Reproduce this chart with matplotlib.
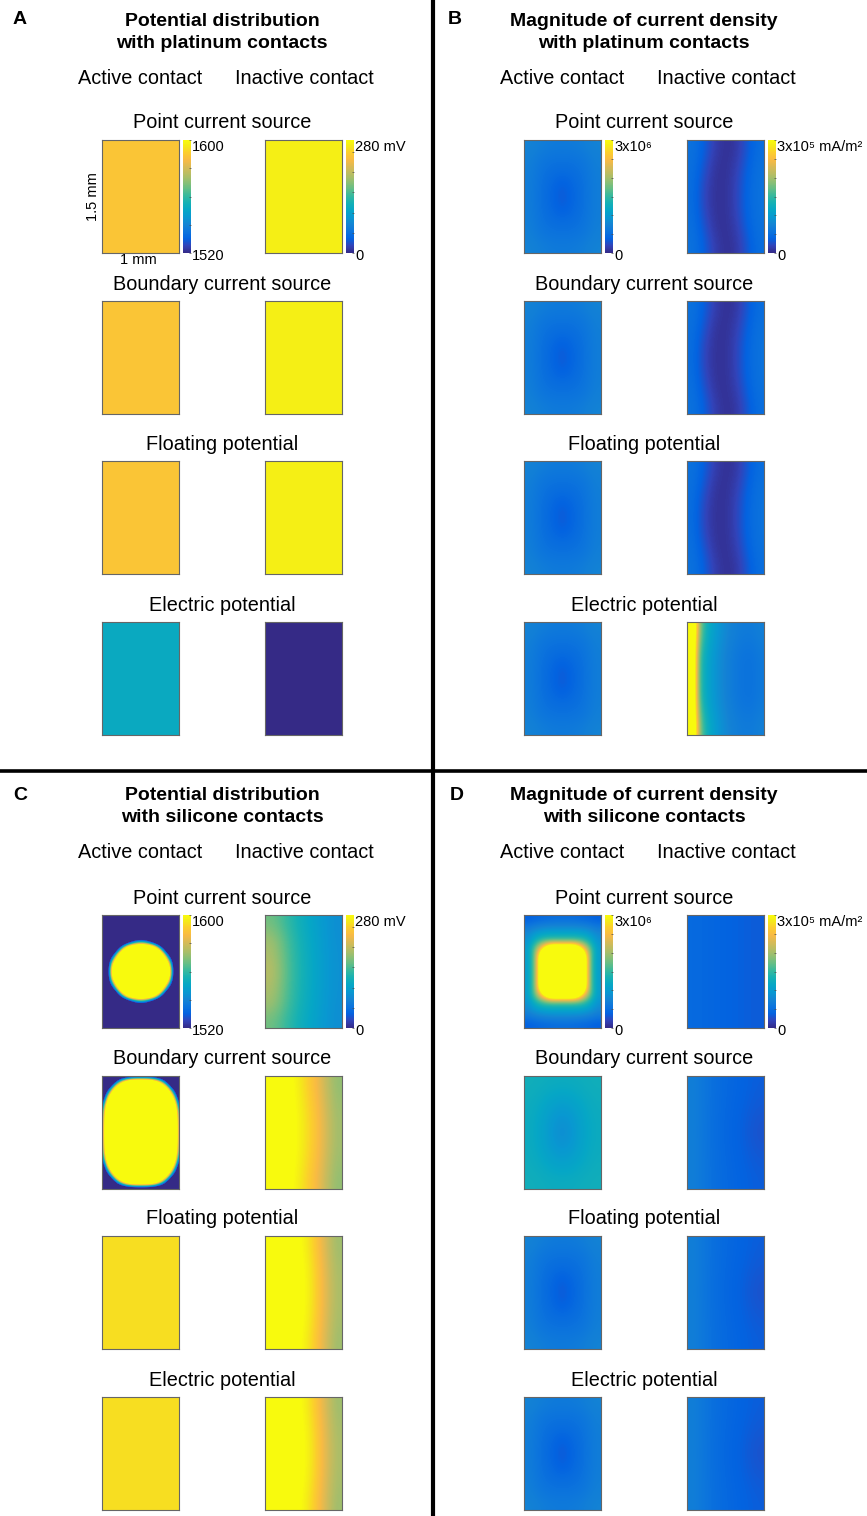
import numpy as np
import matplotlib
matplotlib.use("Agg")
import matplotlib.pyplot as plt
from matplotlib.colors import LinearSegmentedColormap, Normalize
from matplotlib.cm import ScalarMappable
from matplotlib.lines import Line2D

plt.rcParams['font.family'] = ['Liberation Sans', 'DejaVu Sans']

# MATLAB parula, sampled
parula_pos = [i / 63 for i in (0, 4, 8, 12, 16, 20, 24, 28, 32, 36, 40, 44, 48, 52, 56, 60, 63)]
parula_rgb = [
    (0.2081, 0.1663, 0.5292), (0.1959, 0.2645, 0.7279), (0.0117, 0.3875, 0.8820),
    (0.0498, 0.4586, 0.8641), (0.0793, 0.5200, 0.8312), (0.0343, 0.5966, 0.8199),
    (0.0228, 0.6535, 0.7768), (0.0843, 0.6928, 0.7062), (0.2178, 0.7250, 0.6193),
    (0.3953, 0.7459, 0.5244), (0.5709, 0.7485, 0.4494), (0.7184, 0.7411, 0.3905),
    (0.8507, 0.7299, 0.3360), (0.9739, 0.7314, 0.2666), (0.9880, 0.8066, 0.1794),
    (0.9598, 0.9218, 0.0948), (0.9763, 0.9831, 0.0538)]
parula = LinearSegmentedColormap.from_list("parula", list(zip(parula_pos, parula_rgb)))

# ---- data ----
panel_letters = ["A", "B", "C", "D"]
panel_titles = [("Potential distribution", "with platinum contacts"),
                ("Magnitude of current density", "with platinum contacts"),
                ("Potential distribution", "with silicone contacts"),
                ("Magnitude of current density", "with silicone contacts")]
col_titles = ["Active contact", "Inactive contact"]
row_titles = ["Point current source", "Boundary current source",
              "Floating potential", "Electric potential"]

# colour limits: potential in mV, current density in 1e5 mA/m^2
pot_active_lim, pot_inactive_lim = (1520, 1600), (0, 280)
cur_active_lim, cur_inactive_lim = (0, 30), (0, 3)
pot_labels = [("1600", "1520"), ("280 mV", "0")]
cur_labels = [("3x10\u2076", "0"), ("3x10\u2075 mA/m\u00b2", "0")]
pot_minor = [list(range(1520, 1601, 20)), list(range(0, 281, 50))]
cur_minor = [list(range(0, 31, 5)), [0, 0.5, 1, 1.5, 2, 2.5, 3]]

# A: platinum potential (uniform fields)
A_active = [[[1589]], [[1589]], [[1589]], [[1552]]]
A_inactive = [[[270]], [[270]], [[270]], [[0]]]

# B: platinum current density
B_active = [[7.5, 6.8, 6.4, 6.3, 6.4, 6.8, 7.5],
            [7.0, 6.0, 5.6, 5.5, 5.6, 6.0, 7.0],
            [6.8, 5.6, 5.0, 4.8, 5.0, 5.6, 6.8],
            [6.7, 5.4, 4.5, 3.4, 4.5, 5.4, 6.7],
            [6.7, 5.3, 4.3, 3.0, 4.3, 5.3, 6.7],
            [6.7, 5.4, 4.5, 3.4, 4.5, 5.4, 6.7],
            [6.8, 5.6, 5.0, 4.8, 5.0, 5.6, 6.8],
            [7.0, 6.0, 5.6, 5.5, 5.6, 6.0, 7.0],
            [7.5, 6.8, 6.4, 6.3, 6.4, 6.8, 7.5]]
B_inactive_src = [[0.55, 0.38, 0.16, 0.05, 0.10, 0.32, 0.50],
                  [0.53, 0.32, 0.10, 0.05, 0.15, 0.37, 0.53],
                  [0.51, 0.25, 0.07, 0.06, 0.19, 0.41, 0.55],
                  [0.50, 0.22, 0.07, 0.06, 0.20, 0.42, 0.55],
                  [0.51, 0.25, 0.07, 0.06, 0.19, 0.41, 0.55],
                  [0.53, 0.32, 0.10, 0.05, 0.15, 0.37, 0.53],
                  [0.55, 0.38, 0.16, 0.05, 0.10, 0.32, 0.50]]
B_inactive_elec = [[4.5, 2.00, 1.30, 1.05, 0.88, 0.75, 0.68, 0.65, 0.65, 0.70],
                   [4.5, 1.60, 1.15, 0.95, 0.80, 0.68, 0.60, 0.55, 0.55, 0.62],
                   [4.5, 1.60, 1.15, 0.95, 0.80, 0.68, 0.60, 0.55, 0.55, 0.62],
                   [4.5, 1.60, 1.15, 0.95, 0.80, 0.68, 0.60, 0.55, 0.55, 0.62],
                   [4.5, 2.00, 1.30, 1.05, 0.88, 0.75, 0.68, 0.65, 0.65, 0.70]]

# C: silicone potential
C_point_half = [[1450] * 10,
                [1450] * 10,
                [1450] * 10,
                [1450, 1450, 1450, 1481, 1539, 1539, 1481, 1450, 1450, 1450],
                [1450, 1450, 1568, 1690, 1690, 1690, 1690, 1568, 1450, 1450],
                [1450, 1539, 1690, 1690, 1690, 1690, 1690, 1690, 1539, 1450],
                [1450, 1632, 1690, 1690, 1690, 1690, 1690, 1690, 1632, 1450],
                [1450, 1666, 1690, 1690, 1690, 1690, 1690, 1690, 1666, 1450]]
# sampled on a grid whose outer nodes sit on the contact border
C_bound_half = [[1450, 1450, 1450, 1450, 1460, 1462, 1460, 1450, 1450, 1450, 1450],
                [1450, 1450, 1555, 1654, 1690, 1690, 1690, 1654, 1555, 1450, 1450],
                [1450, 1545, 1690, 1690, 1690, 1690, 1690, 1690, 1690, 1545, 1450],
                [1460, 1645, 1690, 1690, 1690, 1690, 1690, 1690, 1690, 1645, 1460],
                [1505, 1690, 1690, 1690, 1690, 1690, 1690, 1690, 1690, 1690, 1505],
                [1532, 1690, 1690, 1690, 1690, 1690, 1690, 1690, 1690, 1690, 1532],
                [1542, 1690, 1690, 1690, 1690, 1690, 1690, 1690, 1690, 1690, 1542],
                [1545, 1690, 1690, 1690, 1690, 1690, 1690, 1690, 1690, 1690, 1545]]
C_uniform = [[1594]]
C_inactive_point = [[165, 138, 114, 96, 80],
                    [185, 146, 118, 98, 81],
                    [192, 149, 120, 99, 82],
                    [198, 151, 121, 100, 82],
                    [192, 149, 120, 99, 82],
                    [185, 146, 118, 98, 81],
                    [165, 138, 114, 96, 80]]
C_inactive_bound = [[310, 290, 258, 226, 176],
                    [310, 292, 262, 230, 180],
                    [310, 294, 265, 234, 183],
                    [310, 294, 266, 235, 184],
                    [310, 294, 265, 234, 183],
                    [310, 292, 262, 230, 180],
                    [310, 290, 258, 226, 176]]
C_inactive_float = [[315, 302, 276, 236, 182],
                    [315, 304, 280, 240, 185],
                    [315, 305, 283, 243, 187],
                    [315, 305, 284, 244, 188],
                    [315, 305, 283, 243, 187],
                    [315, 304, 280, 240, 185],
                    [315, 302, 276, 236, 182]]

# D: silicone current density
D_point_half = [[3.6, 4.2, 4.5, 4.8, 5.0, 5.0, 4.8, 4.5, 4.2, 3.6],
                [6.0, 6.8, 7.4, 7.6, 7.6, 7.6, 7.6, 7.4, 6.8, 6.0],
                [8.0, 10.0, 11.0, 11.5, 11.5, 11.5, 11.5, 11.0, 10.0, 8.0],
                [9.0, 13.5, 16.5, 17, 17, 17, 17, 16.5, 13.5, 9.0],
                [10.0, 18, 30, 45, 45, 45, 45, 30, 18, 10.0],
                [10.0, 18, 45, 60, 60, 60, 60, 45, 18, 10.0],
                [10.0, 18, 45, 60, 60, 60, 60, 45, 18, 10.0],
                [10.0, 18, 45, 60, 60, 60, 60, 45, 18, 10.0]]
D_active_bound = [[12.8, 12.4, 12.2, 12.4, 12.8],
                  [12.5, 11.4, 10.6, 11.4, 12.5],
                  [12.3, 10.5, 8.8, 10.5, 12.3],
                  [12.2, 10.2, 7.8, 10.2, 12.2],
                  [12.3, 10.5, 8.8, 10.5, 12.3],
                  [12.5, 11.4, 10.6, 11.4, 12.5],
                  [12.8, 12.4, 12.2, 12.4, 12.8]]
D_inactive_point = [[0.46, 0.43, 0.40, 0.37, 0.34]] * 5
D_inactive_rest = [[0.69, 0.53, 0.45, 0.40, 0.35],
                   [0.69, 0.53, 0.44, 0.38, 0.32],
                   [0.69, 0.52, 0.43, 0.37, 0.28],
                   [0.69, 0.53, 0.44, 0.38, 0.32],
                   [0.69, 0.53, 0.45, 0.40, 0.35]]

plain = (0, 1, 0, 1.5)
node_edge = (-0.05, 1.05, -0.05, 1.55)


def mirror(half, skip_middle=True):
    half = np.array(half, dtype=float)
    return np.vstack([half, half[-2::-1] if skip_middle else half[::-1]])


fields = [
    (list(zip(A_active, A_inactive)), pot_active_lim, pot_inactive_lim, pot_labels, pot_minor),
    ([(B_active, B_inactive_src)] * 3 + [(B_active, B_inactive_elec)],
     cur_active_lim, cur_inactive_lim, cur_labels, cur_minor),
    ([(mirror(C_point_half), C_inactive_point),
      ((mirror(C_bound_half, False), node_edge), C_inactive_bound),
      (C_uniform, C_inactive_float), (C_uniform, C_inactive_float)],
     pot_active_lim, pot_inactive_lim, pot_labels, pot_minor),
    ([(mirror(D_point_half), D_inactive_point), (D_active_bound, D_inactive_rest),
      (B_active, D_inactive_rest), (B_active, D_inactive_rest)],
     cur_active_lim, cur_inactive_lim, cur_labels, cur_minor),
]

# ---- layout (pixels) ----
W, H = 867, 1516
fig = plt.figure(figsize=(W / 100, H / 100), dpi=100)


def px_axes(x, y, w, h):
    return fig.add_axes([x / W, 1 - (y + h) / H, w / W, h / H])


def px_text(x, y, s, **kw):
    fig.text(x / W, 1 - y / H, s, **kw)


offsets = [(0, 0), (422, 0), (0, 775), (422, 775)]
letter_x = [20, 455, 20, 457]
map_x = [102, 265]
map_w, map_h = 77, 113
row_y = [140, 301, 461, 622]
row_title_y = [123, 284, 444, 605]
fs_title, fs_head, fs_tick = 14, 14.3, 10.5

for p in range(4):
    ox, oy = offsets[p]
    rows, lim_a, lim_i, labels, minor = fields[p]
    px_text(letter_x[p], 20 + oy, panel_letters[p], fontsize=fs_title, fontweight="bold",
            ha="center", va="center")
    px_text(222 + ox, 21 + oy, panel_titles[p][0], fontsize=fs_title, fontweight="bold",
            ha="center", va="center")
    px_text(222 + ox, 43 + oy, panel_titles[p][1], fontsize=fs_title, fontweight="bold",
            ha="center", va="center")
    px_text(140 + ox, 78 + oy, col_titles[0], fontsize=fs_head, ha="center", va="center")
    px_text(304 + ox, 78 + oy, col_titles[1], fontsize=fs_head, ha="center", va="center")

    for r in range(4):
        px_text(222 + ox, row_title_y[r] + oy, row_titles[r], fontsize=fs_head,
                ha="center", va="center")
        for c, lim in enumerate((lim_a, lim_i)):
            grid, ext = rows[r][c] if isinstance(rows[r][c], tuple) else (rows[r][c], plain)
            ax = px_axes(map_x[c] + ox, row_y[r] + oy, map_w, map_h)
            ax.imshow(np.array(grid, dtype=float), cmap=parula, vmin=lim[0], vmax=lim[1],
                      extent=ext, aspect="auto", interpolation="bicubic")
            ax.set_xlim(0, 1)
            ax.set_ylim(0, 1.5)
            ax.set_xticks([])
            ax.set_yticks([])
            for s in ax.spines.values():
                s.set_color("0.4")
                s.set_linewidth(0.8)

            if r == 0:
                cx = map_x[c] + ox + map_w + 4
                cax = px_axes(cx, row_y[r] + oy, 8, map_h)
                cb = fig.colorbar(ScalarMappable(Normalize(*lim), parula), cax=cax)
                cb.outline.set_visible(False)
                cb.set_ticks(minor[c], labels=[""] * len(minor[c]))
                cax.tick_params(direction="in", length=1.5, width=0.5, color="0.3")
                px_text(cx + 9, row_y[r] + oy, labels[c][0], fontsize=fs_tick,
                        ha="left", va="top")
                px_text(cx + 9, row_y[r] + oy + map_h + 3, labels[c][1], fontsize=fs_tick,
                        ha="left", va="center")

            if p == 0 and r == 0 and c == 0:
                px_text(map_x[0] - 9, row_y[0] + map_h / 2, "1.5 mm", fontsize=fs_tick,
                        rotation=90, ha="center", va="center")
                px_text(map_x[0] + map_w / 2 - 2, row_y[0] + map_h + 7, "1 mm", fontsize=fs_tick,
                        ha="center", va="center")

# panel dividers
fig.add_artist(Line2D([432.5 / W] * 2, [0, 1], transform=fig.transFigure, color="k", lw=3))
fig.add_artist(Line2D([0, 1], [1 - 770.5 / H] * 2, transform=fig.transFigure, color="k", lw=2.6))

fig.savefig("out.png", dpi=100)
